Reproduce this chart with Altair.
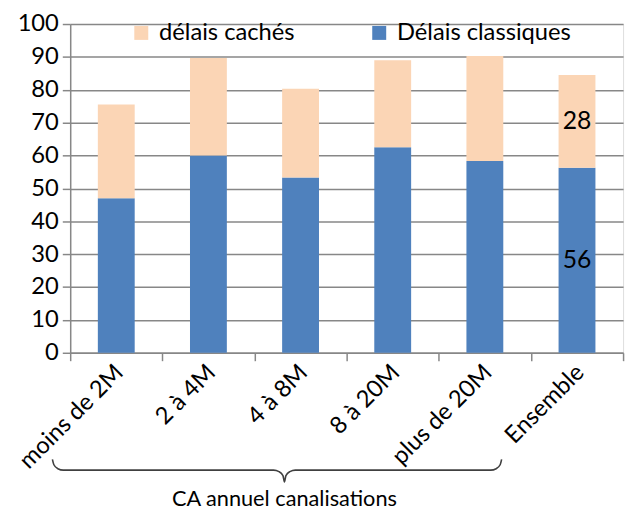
import altair as alt
import pandas as pd

categories = ["moins de 2M", "2 à 4M", "4 à 8M", "8 à 20M", "plus de 20M", "Ensemble"]
classiques = [47.0, 60.0, 53.3, 62.5, 58.3, 56.3]
caches = [28.5, 29.7, 27.0, 26.5, 32.0, 28.2]
series = ["délais cachés", "Délais classiques"]
colors = ["#FBD5B5", "#4F81BD"]
y_ticks = list(range(0, 101, 10))
group_title = "CA annuel canalisations"
label_category = "Ensemble"

FONT = "Lato"
GRAY = "#878787"

rows = []
for c, b, o in zip(categories, classiques, caches):
    rows.append({"cat": c, "serie": series[1], "value": b, "order": 0})
    rows.append({"cat": c, "serie": series[0], "value": o, "order": 1})
df = pd.DataFrame(rows)

i = categories.index(label_category)
lab = pd.DataFrame({
    "cat": [label_category, label_category],
    "y": [classiques[i] / 2, classiques[i] + caches[i] / 2],
    "text": [str(round(classiques[i])), str(round(caches[i]))],
})

# decorative brace under the first five categories (x in category-step units)
brace_x = [-0.193, -0.177, -0.134, -0.075, 2.207, 2.266, 2.309, 2.325,
           2.341, 2.384, 2.443, 4.564, 4.623, 4.666, 4.682]
brace_y = [-32.4, -34.05, -35.25, -35.7, -35.7, -36.15, -37.35, -39.3,
           -37.35, -36.15, -35.7, -35.7, -35.25, -34.05, -32.4]
brace = pd.DataFrame({"x": brace_x, "y": brace_y})
title_df = pd.DataFrame({"x": [2.325], "y": [-44.5], "t": [group_title]})

yscale = alt.Scale(domain=[0, 100], nice=False)
xscale = alt.Scale(domain=categories, paddingInner=0, paddingOuter=0)

xaxis = alt.Axis(labelAngle=-45, labelAlign="right", labelBaseline="middle",
                 labelPadding=8, labelOffset=3, tickBand="extent", tickSize=8,
                 domainColor=GRAY, tickColor=GRAY, domainWidth=1.5,
                 tickWidth=1.5, grid=False, labelFontSize=24, labelColor="#000",
                 labelFont=FONT, labelOverlap=False, title=None)
yaxis = alt.Axis(values=y_ticks, tickSize=8, labelPadding=4, grid=True,
                 gridColor=GRAY, gridWidth=1.5, domainColor=GRAY,
                 tickColor=GRAY, domainWidth=1.5, tickWidth=1.5,
                 labelFontSize=24, labelColor="#000", labelFont=FONT,
                 labelOverlap=False, title=None)

bars = alt.Chart(df).mark_bar(width={"band": 0.4}).encode(
    x=alt.X("cat:N", sort=categories, scale=xscale, axis=xaxis),
    y=alt.Y("value:Q", stack="zero", scale=yscale, axis=yaxis),
    color=alt.Color("serie:N", scale=alt.Scale(domain=series, range=colors),
                    legend=alt.Legend(title=None, orient="none", legendX=60, legendY=-3,
                                      direction="horizontal", symbolType="square",
                                      symbolSize=200, symbolStrokeWidth=0,
                                      labelFontSize=24, labelFont=FONT, labelColor="#000",
                                      labelLimit=400, columnPadding=73, labelOffset=6,
                                      padding=0)),
    order=alt.Order("order:Q"),
)

labels = alt.Chart(lab).mark_text(fontSize=25, font=FONT, color="#000").encode(
    x=alt.X("cat:N", sort=categories, scale=xscale, axis=xaxis),
    y=alt.Y("y:Q", scale=yscale, axis=yaxis),
    text="text:N",
)

bscale = alt.Scale(domain=[0, 6], nice=False, zero=False)
brace_line = alt.Chart(brace).mark_line(color="#404040", strokeWidth=1.6,
                                        interpolate="monotone").encode(
    x=alt.X("x:Q", scale=bscale, axis=None),
    y=alt.Y("y:Q", scale=yscale, axis=yaxis),
)
brace_title = alt.Chart(title_df).mark_text(fontSize=22, font=FONT, color="#000",
                                            baseline="middle").encode(
    x=alt.X("x:Q", scale=bscale, axis=None),
    y=alt.Y("y:Q", scale=yscale, axis=yaxis),
    text="t:N",
)

main = alt.layer(bars, labels)
deco = alt.layer(brace_line, brace_title)

chart = alt.layer(main, deco).resolve_scale(x="independent").properties(
    width=560, height=333,
    autosize=alt.AutoSizeParams(type="none"),
    padding={"left": 63, "top": 13, "right": 6, "bottom": 156},
).configure_view(stroke=None).configure(font=FONT)

chart.save("out.html", embed_options={"renderer": "svg", "actions": False})
